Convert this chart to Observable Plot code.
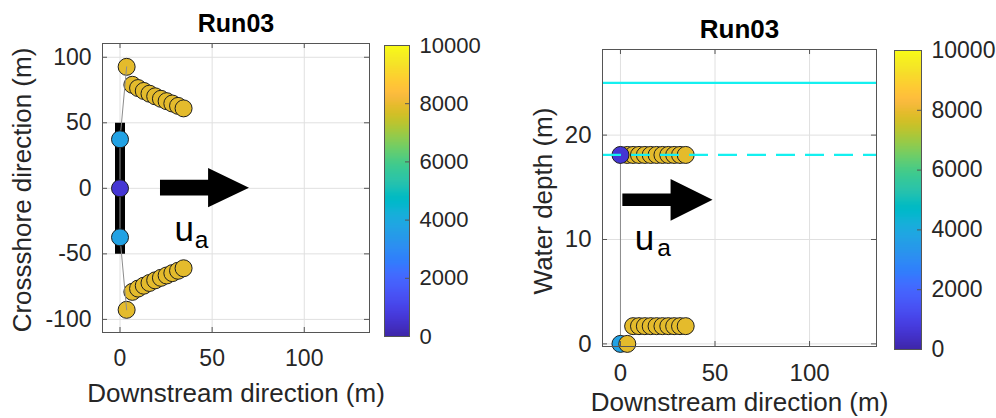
<!DOCTYPE html>
<html><head><meta charset="utf-8">
<script src="https://cdn.jsdelivr.net/npm/d3@7"></script>
<script src="https://cdn.jsdelivr.net/npm/@observablehq/plot@0.6"></script>
<style>
body{margin:0;background:#fff;}
#wrap{position:relative;width:996px;height:418px;overflow:hidden;background:#fff;}
#wrap svg{position:absolute;top:0;overflow:visible;}
</style></head><body><div id="wrap"></div>
<script>
// ---------- data ----------
const titleText = "Run03";
const xTicks = [0, 50, 100];
const planYTicks = [-100, -50, 0, 50, 100];
const sideYTicks = [0, 10, 20];
const cbTicks = [0, 2000, 4000, 6000, 8000, 10000];

// plan view (downstream x, crossshore y, time colour)
const planX = [3.6, 6.7, 9.8, 12.9, 16.0, 19.1, 22.2, 25.3, 28.4, 31.5, 34.5,
               3.6, 6.7, 9.8, 12.9, 16.0, 19.1, 22.2, 25.3, 28.4, 31.5, 34.5,
               0, 0, 0];
const planY = [92.7, 79, 76.5, 74.3, 72.2, 70.2, 68.3, 66.5, 64.7, 62.9, 61,
               -92.7, -79, -76.5, -74.3, -72.2, -70.2, -68.3, -66.5, -64.7, -62.9, -61,
               37.4, 0, -37.4];
const planT = [7900, 7900, 7900, 7900, 7900, 7900, 7900, 7900, 7900, 7900, 7900,
               7900, 7900, 7900, 7900, 7900, 7900, 7900, 7900, 7900, 7900, 7900,
               3700, 600, 3700];
const planLineX = [3.6, 0, 0, 0, 3.6];
const planLineY = [92.7, 37.4, 0, -37.4, -92.7];
const netX = [0, 0];
const netY = [-50, 50];

// side view (downstream x, water depth y, time colour)
const sideX = [3.6, 6.7, 9.8, 12.9, 16.0, 19.1, 22.2, 25.3, 28.4, 31.5, 34.5,
               6.7, 9.8, 12.9, 16.0, 19.1, 22.2, 25.3, 28.4, 31.5, 34.5,
               0, 3.6, 0];
const sideY = [18.1, 18.1, 18.1, 18.1, 18.1, 18.1, 18.1, 18.1, 18.1, 18.1, 18.1,
               1.7, 1.7, 1.7, 1.7, 1.7, 1.7, 1.7, 1.7, 1.7, 1.7,
               0, 0, 18.1];
const sideT = [7900, 7900, 7900, 7900, 7900, 7900, 7900, 7900, 7900, 7900, 7900,
               7900, 7900, 7900, 7900, 7900, 7900, 7900, 7900, 7900, 7900,
               3700, 7900, 600];
const sideLineX = [0, 0];
const sideLineY = [18.1, 0];
const surfaceDepth = [25];
const floatDepth = [18.1];

// current arrows (u_a) and label anchors
const arrowPlanX = [21.7, 47.8, 47.8, 70, 47.8, 47.8, 21.7];
const arrowPlanY = [6.5, 6.5, 15.5, 0.5, -14.5, -5.5, -5.5];
const arrowSideX = [1, 26.5, 26.5, 48.7, 26.5, 26.5, 1];
const arrowSideY = [14.4, 14.4, 15.8, 13.8, 11.8, 13.2, 13.2];
const uaPlan = [[34.8, -32], [44.2, -39.5]];
const uaSide = [[12.7, 10.1], [23.0, 9.2]];

// MATLAB parula colormap
const parula = [[0.2422,0.1504,0.6603],[0.2504,0.1650,0.7076],[0.2578,0.1818,0.7511],[0.2647,0.1978,0.7952],[0.2706,0.2147,0.8364],[0.2751,0.2342,0.8710],[0.2783,0.2559,0.8991],[0.2803,0.2782,0.9221],[0.2813,0.3006,0.9414],[0.2810,0.3228,0.9579],[0.2795,0.3447,0.9717],[0.2760,0.3667,0.9829],[0.2699,0.3892,0.9906],[0.2602,0.4123,0.9952],[0.2440,0.4358,0.9988],[0.2206,0.4603,0.9973],[0.1963,0.4847,0.9892],[0.1834,0.5074,0.9798],[0.1786,0.5289,0.9682],[0.1764,0.5499,0.9520],[0.1687,0.5703,0.9359],[0.1540,0.5902,0.9218],[0.1460,0.6091,0.9079],[0.1380,0.6276,0.8973],[0.1248,0.6459,0.8883],[0.1113,0.6635,0.8763],[0.0952,0.6798,0.8598],[0.0689,0.6948,0.8394],[0.0297,0.7082,0.8163],[0.0036,0.7203,0.7917],[0.0067,0.7312,0.7660],[0.0433,0.7411,0.7394],[0.0964,0.7500,0.7120],[0.1408,0.7584,0.6842],[0.1717,0.7670,0.6554],[0.1938,0.7758,0.6251],[0.2161,0.7843,0.5923],[0.2470,0.7918,0.5567],[0.2906,0.7973,0.5188],[0.3406,0.8008,0.4789],[0.3909,0.8029,0.4354],[0.4456,0.8024,0.3909],[0.5044,0.7993,0.3480],[0.5616,0.7942,0.3062],[0.6174,0.7876,0.2612],[0.6720,0.7793,0.2227],[0.7242,0.7698,0.1910],[0.7738,0.7598,0.1646],[0.8203,0.7498,0.1535],[0.8634,0.7406,0.1596],[0.9035,0.7330,0.1774],[0.9393,0.7288,0.2100],[0.9728,0.7298,0.2394],[0.9956,0.7434,0.2371],[0.9970,0.7659,0.2199],[0.9952,0.7893,0.2028],[0.9892,0.8136,0.1885],[0.9786,0.8386,0.1766],[0.9676,0.8639,0.1643],[0.9610,0.8890,0.1537],[0.9597,0.9135,0.1423],[0.9628,0.9373,0.1265],[0.9691,0.9606,0.1064],[0.9769,0.9839,0.0805]];

// ---------- drawing ----------
const parulaInterp = d3.piecewise(d3.interpolateRgb, parula.map(([r, g, b]) => d3.rgb(r * 255, g * 255, b * 255).toString()));
const colorOpts = {type: "linear", domain: [0, 10000], interpolate: parulaInterp};
const FONT = "'Liberation Sans', Arial, Helvetica, sans-serif";
const AX = "#555555";
const fmt = d => String(d);
const pts = (xs, ys, ts) => xs.map((x, i) => ({x, y: ys[i], t: ts ? ts[i] : 0}));
const wrap = document.getElementById("wrap");

function place(svg, left) { svg.style.left = left + "px"; wrap.appendChild(svg); }

function panel(cfg) {
  const fw = cfg.width - cfg.ml - cfg.mr, fh = 418 - cfg.mt - cfg.mb;
  return Plot.plot({
    width: cfg.width, height: 418,
    marginLeft: cfg.ml, marginRight: cfg.mr, marginTop: cfg.mt, marginBottom: cfg.mb,
    x: {domain: cfg.xDomain}, y: {domain: cfg.yDomain}, color: colorOpts,
    style: {background: "transparent", fontFamily: FONT, color: "#262626", overflow: "visible"},
    marks: [
      Plot.gridX(xTicks, {stroke: "#e0e0e0", strokeOpacity: 1}),
      Plot.gridY(cfg.yTicks, {stroke: "#e0e0e0", strokeOpacity: 1}),
      ...cfg.marks,
      Plot.frame({stroke: AX, strokeWidth: 1}),
      Plot.tickX(xTicks, {insetTop: fh - 5, stroke: AX}),
      Plot.tickX(xTicks, {insetBottom: fh - 5, stroke: AX}),
      Plot.tickY(cfg.yTicks, {insetRight: fw - 5, stroke: AX}),
      Plot.tickY(cfg.yTicks, {insetLeft: fw - 5, stroke: AX}),
      Plot.axisX(xTicks, {tickSize: 0, tickPadding: 17, tickFormat: fmt, fontSize: cfg.fs, label: null}),
      Plot.axisY(cfg.yTicks, {tickSize: 0, tickPadding: 11, tickFormat: fmt, fontSize: cfg.fs, label: null}),
      Plot.text([titleText], {frameAnchor: "top", lineAnchor: "middle", dy: -20, fontWeight: "bold", fontSize: cfg.fs + 2, fill: "#000"}),
      Plot.text([cfg.xLabel], {frameAnchor: "bottom", lineAnchor: "middle", textAnchor: "middle", dy: cfg.xdy, fontSize: cfg.lfs, fill: "#262626"}),
      Plot.text([cfg.yLabel], {frameAnchor: "left", lineAnchor: "middle", textAnchor: "middle", dx: cfg.ydx, dy: cfg.ydy, rotate: -90, fontSize: cfg.lfs, fill: "#262626"})
    ]
  });
}

function colorbar(cfg) {
  const steps = d3.range(0, 10000, 25);
  return Plot.plot({
    width: cfg.width, height: 418,
    marginLeft: cfg.ml, marginRight: cfg.width - cfg.ml - cfg.bw, marginTop: cfg.mt, marginBottom: cfg.mb,
    y: {domain: [0, 10000]}, color: colorOpts,
    style: {background: "transparent", fontFamily: FONT, color: "#262626", overflow: "visible"},
    marks: [
      Plot.rect(steps, {y1: d => d, y2: d => Math.min(10000, d + 60), fill: d => d + 12, shapeRendering: "crispEdges"}),
      Plot.frame({stroke: AX}),
      Plot.tickY(cbTicks, {insetLeft: cfg.bw - 4, stroke: AX}),
      Plot.axisY(cbTicks, {anchor: "right", tickSize: 0, tickPadding: 10, tickFormat: fmt, fontSize: cfg.fs, label: null})
    ]
  });
}

const dotStyle = {x: "x", y: "y", fill: "t", r: 8.5, stroke: "#1e1e1e", strokeWidth: 1};

const arrowText = (ua, fs) => [
  Plot.text([ua[0]], {x: d => d[0], y: d => d[1], text: () => "u", fontSize: fs, fill: "#000"}),
  Plot.text([ua[1]], {x: d => d[0], y: d => d[1], text: () => "a", fontSize: fs * 0.7, fill: "#000"})
];

const planPts = pts(planX, planY, planT);
place(panel({
  width: 380, ml: 102, mr: 11, mt: 43, mb: 86, fs: 23, lfs: 26,
  xDomain: [-9.5, 135.4], yDomain: [-110, 110.5], yTicks: planYTicks,
  xLabel: "Downstream direction (m)", yLabel: "Crossshore direction (m)", xdy: 61, ydx: -80, ydy: 2,
  marks: [
    Plot.dot(planPts.slice(0, 22), dotStyle),
    Plot.line(pts(netX, netY), {x: "x", y: "y", stroke: "#000", strokeWidth: 10, strokeLinecap: "butt"}),
    Plot.line(pts(planLineX, planLineY), {x: "x", y: "y", stroke: "#8c8c8c", strokeWidth: 1}),
    Plot.dot(planPts.slice(22), dotStyle),
    Plot.line(pts(arrowPlanX, arrowPlanY), {x: "x", y: "y", fill: "#000", stroke: "none"}),
    ...arrowText(uaPlan, 35)
  ]
}), 0);

place(colorbar({width: 116, ml: 4, bw: 25, mt: 45, mb: 82, fs: 22}), 380);

const sidePts = pts(sideX, sideY, sideT);
place(panel({
  width: 410, ml: 122, mr: 14, mt: 49, mb: 72, fs: 24, lfs: 26,
  xDomain: [-9.5, 135.4], yDomain: [-0.25, 28.2], yTicks: sideYTicks,
  xLabel: "Downstream direction (m)", yLabel: "Water depth (m)", xdy: 56, ydx: -59, ydy: 3,
  marks: [
    Plot.ruleY(surfaceDepth, {stroke: "#14f0f0", strokeWidth: 2.2}),
    Plot.line(pts(sideLineX, sideLineY), {x: "x", y: "y", stroke: "#8c8c8c", strokeWidth: 1}),
    Plot.dot(sidePts, dotStyle),
    Plot.ruleY(floatDepth, {stroke: "#14f0f0", strokeWidth: 2.2, strokeDasharray: "19,10"}),
    Plot.line(pts(arrowSideX, arrowSideY), {x: "x", y: "y", fill: "#000", stroke: "none"}),
    ...arrowText(uaSide, 35)
  ]
}), 480);

place(colorbar({width: 106, ml: 4, bw: 27, mt: 50, mb: 69, fs: 23}), 890);
</script></body></html>
